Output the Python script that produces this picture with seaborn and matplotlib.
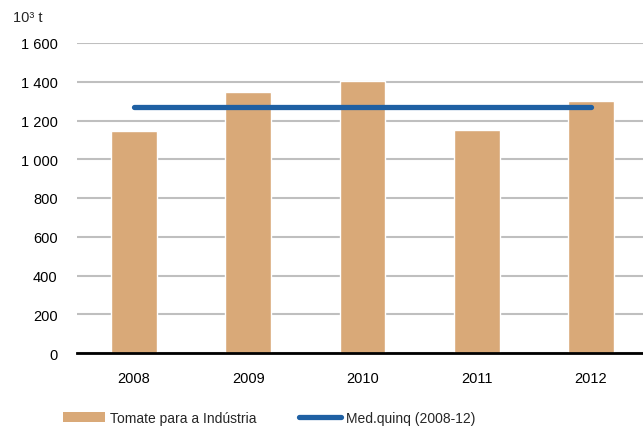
import matplotlib
matplotlib.use("Agg")
import matplotlib.pyplot as plt
import seaborn as sns
import pandas as pd
from matplotlib.lines import Line2D
from matplotlib.patches import Patch

years = ["2008", "2009", "2010", "2011", "2012"]
tomate = [1147, 1345, 1405, 1150, 1299]
med_quinq = [1270, 1270, 1270, 1270, 1270]
yticks = [0, 200, 400, 600, 800, 1000, 1200, 1400, 1600]
ytick_labels = ["0", "200", "400", "600", "800", "1 000", "1 200", "1 400", "1 600"]

sns.set_theme(style="white")
plt.rcParams["font.family"] = ["Liberation Sans", "DejaVu Sans"]

bar_color = "#D9A978"
line_color = "#1F60A3"

df = pd.DataFrame({"ano": years, "tomate": tomate, "med": med_quinq})

fig = plt.figure(figsize=(6.43, 4.27), dpi=100)
ax = fig.add_axes([77 / 643, 1 - 354 / 427, (648 - 77) / 643, (354 - 44) / 427])

sns.barplot(data=df, x="ano", y="tomate", color=bar_color, width=0.40,
            saturation=1, ax=ax, zorder=2)
ax.plot(range(len(years)), df["med"], color=line_color, lw=3.8,
        solid_capstyle="round", zorder=3)

ax.set_xlim(-0.5, len(years) - 0.5)
ax.set_ylim(0, 1600)
ax.set_yticks(yticks)
ax.set_yticklabels(ytick_labels, fontsize=10.5, color="black")
ax.yaxis.grid(True, color="#BFBFBF", lw=1.5, zorder=0)
ax.set_axisbelow(True)
ax.set_xlabel("")
ax.set_ylabel("")
ax.tick_params(axis="y", length=0, pad=14)
ax.set_xticks([i - 0.5 for i in range(len(years) + 1)], minor=False)
ax.set_xticklabels([""] * (len(years) + 1))
ax.set_xticks(range(len(years)), minor=True)
ax.set_xticklabels(years, minor=True, fontsize=10.5, color="black")
ax.tick_params(axis="x", which="major", length=5, width=1.5, color="black", direction="out")
ax.tick_params(axis="x", which="minor", length=0, pad=13)
for s in ["top", "right", "left"]:
    ax.spines[s].set_visible(False)
ax.spines["bottom"].set_color("black")
ax.spines["bottom"].set_linewidth(2)

fig.text(13 / 643, 1 - 18 / 427, "10³ t", fontsize=10.5, va="center", ha="left")

handles = [Patch(facecolor=bar_color, edgecolor="none"),
           Line2D([0], [0], color=line_color, lw=3.8, solid_capstyle="round")]
fig.legend(handles, ["Tomate para a Indústria", "Med.quinq (2008-12)"],
           loc="center left", bbox_to_anchor=(59 / 643, 1 - 419 / 427),
           ncol=2, frameon=False, fontsize=10, handlelength=3.0,
           handleheight=0.7, handletextpad=0.35, columnspacing=3.1,
           borderaxespad=0, borderpad=0.3)

fig.savefig("out.png", dpi=100)
